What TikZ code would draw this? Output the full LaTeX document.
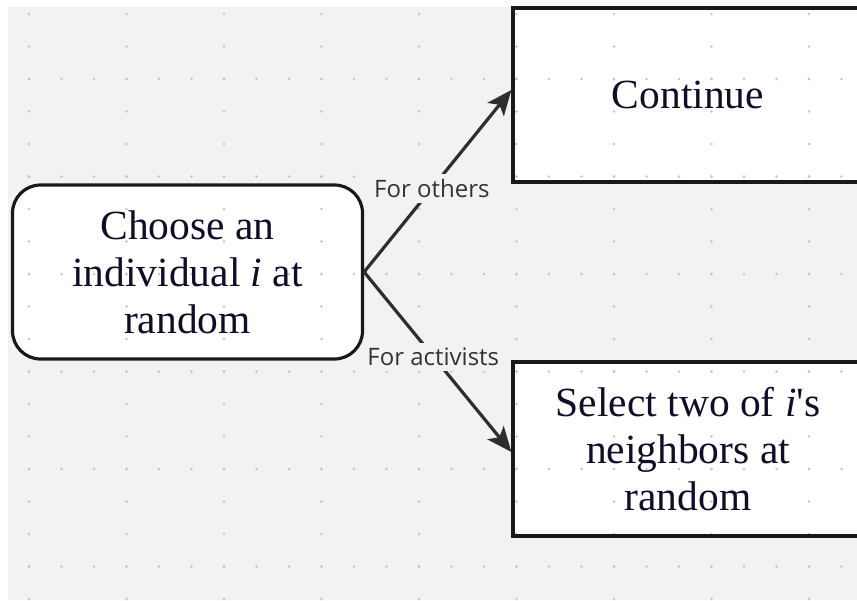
\documentclass[tikz,border=0pt]{standalone}
\usepackage{fontspec}
\setmainfont{Liberation Serif}
\newfontfamily\labelfont{Open Sans}
\usetikzlibrary{arrows.meta}
\pgfdeclarelayer{bg}
\pgfsetlayers{bg,main}
\definecolor{canvas}{HTML}{F2F2F2}
\definecolor{gridgray}{HTML}{C4C4C4}
\definecolor{boxtext}{RGB}{14,14,40}
\definecolor{edgegray}{HTML}{2E2E2E}
\definecolor{labelgray}{HTML}{333333}
\tikzset{
  flowbox/.style={draw=black!90, line width=3.2pt, minimum width=350pt,
    minimum height=174pt, inner sep=0pt, align=center, text=boxtext,
    font=\fontsize{41.5}{47}\selectfont},
  roundbox/.style={flowbox, rounded corners=28pt},
  conn/.style={draw=edgegray, line width=3.2pt,
    -{Stealth[length=25pt,width=21pt,inset=6pt]}},
  edgelabel/.style={fill=canvas, text=labelgray, inner xsep=2pt, inner ysep=5pt,
    font=\labelfont\fontsize{24}{26}\selectfont},
  griddot/.style={fill=gridgray}
}
\begin{document}
\begin{tikzpicture}[x=1pt,y=-1pt]
\useasboundingbox (0,0) rectangle (857,600);
\clip (0,0) rectangle (857,600);

% flowchart boxes
\node[roundbox] (choose) at (187.5,272) {Choose an\\individual \textit{i} at\\random};
\node[flowbox] (cont) at (688,95) {Continue};
\node[flowbox] (sel) at (688,449) {Select two of \textit{i}\textquotesingle s\\neighbors at\\random};

% connectors
\draw[conn] (choose.east) -- node[edgelabel, pos=0.46] {For others} ([yshift=5pt]cont.west);
\draw[conn] (choose.east) -- node[edgelabel, pos=0.47] {For activists} ([yshift=-3pt]sel.west);

% canvas, box fills and dotted grid underneath
\begin{pgfonlayer}{bg}
  \fill[white] (0,0) rectangle (857,600);
  \fill[canvas] (8,7) rectangle (857,600);
  \fill[white, rounded corners=28pt] (choose.north west) rectangle (choose.south east);
  \fill[white] (cont.north west) rectangle (cont.south east);
  \fill[white] (sel.north west) rectangle (sel.south east);
  % dots along the major rows
  \foreach \r in {0,...,5}
    \foreach \c in {0,...,25}
      \fill[griddot] (29+32.5*\c, 79+97.5*\r) circle (1.3pt);
  % dots along the major columns
  \foreach \m in {0,...,8}
    \foreach \k in {0,...,18}
      \fill[griddot] (29+97.5*\m, 14+32.5*\k) circle (1.3pt);
\end{pgfonlayer}
\end{tikzpicture}
\end{document}
